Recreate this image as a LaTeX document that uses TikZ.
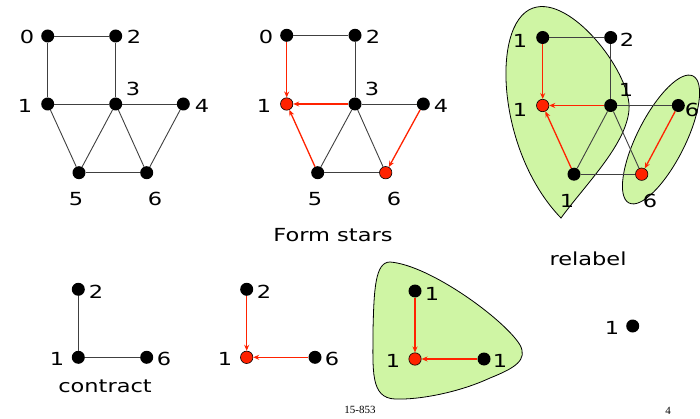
\documentclass[tikz,border=0pt]{standalone}
\usepackage{fontspec}
\setmainfont[FakeStretch=1.25]{DejaVu Sans}
\newfontfamily\footfont{Liberation Serif}
\usetikzlibrary{arrows.meta}
\definecolor{myred}{RGB}{255,34,0}
\definecolor{blobgreen}{RGB}{207,245,164}
\begin{document}
\begin{tikzpicture}[x=1pt,y=-1pt,
  dot/.style={circle,fill=black,inner sep=0pt,minimum size=13pt},
  rdot/.style={circle,fill=myred,draw=black,line width=0.6pt,inner sep=0pt,minimum size=12.4pt},
  lbl/.style={inner sep=0pt,font=\fontsize{18}{20}\selectfont},
  foot/.style={inner sep=0pt,font=\footfont\fontsize{11}{12}\selectfont},
  edge/.style={draw=black!75,line width=0.9pt},
  rarr/.style={draw=myred,line width=1.3pt,-{Stealth[length=6pt,width=5pt]}},
  blobst/.style={fill=blobgreen,draw=black,line width=0.8pt}]
\useasboundingbox (0,0) rectangle (700,419);

% ---------- graph 1 ----------
\node[dot] (a0) at (47.7,36) {};
\node[dot] (a2) at (115.7,36) {};
\node[dot] (a1) at (47.7,104) {};
\node[dot] (a3) at (115.7,104) {};
\node[dot] (a4) at (183.3,104) {};
\node[dot] (a5) at (79,172.7) {};
\node[dot] (a6) at (146.7,172.7) {};
\draw[edge] (a0) -- (a2);
\draw[edge] (a0) -- (a1);
\draw[edge] (a2) -- (a3);
\draw[edge] (a1) -- (a3);
\draw[edge] (a3) -- (a4);
\draw[edge] (a1) -- (a5);
\draw[edge] (a3) -- (a5);
\draw[edge] (a3) -- (a6);
\draw[edge] (a4) -- (a6);
\draw[edge] (a5) -- (a6);
\node[lbl] (la0) at (27,37) {0};
\node[lbl] (la2) at (134,37) {2};
\node[lbl] (la1) at (25,106) {1};
\node[lbl] (la3) at (133,89) {3};
\node[lbl] (la4) at (202,106) {4};
\node[lbl] (la5) at (76,199) {5};
\node[lbl] (la6) at (155,199) {6};

% ---------- graph 2 ----------
\node[dot] (b0) at (286.7,35.3) {};
\node[dot] (b2) at (355,35.3) {};
\node[rdot] (b1) at (286.7,104) {};
\node[dot] (b3) at (355,104) {};
\node[dot] (b4) at (423.3,104) {};
\node[dot] (b5) at (317.7,172.7) {};
\node[rdot] (b6) at (385.7,172.7) {};
\draw[edge] (b0) -- (b2);
\draw[edge] (b2) -- (b3);
\draw[edge] (b3) -- (b4);
\draw[edge] (b3) -- (b5);
\draw[edge] (b3) -- (b6);
\draw[edge] (b5) -- (b6);
\draw[rarr] (b0) -- (b1);
\draw[rarr] (b3) -- (b1);
\draw[rarr] (b5) -- (b1);
\draw[rarr] (b4) -- (b6);
\node[lbl] (lb0) at (266,37) {0};
\node[lbl] (lb2) at (373,37) {2};
\node[lbl] (lb1) at (264,106) {1};
\node[lbl] (lb3) at (372,89) {3};
\node[lbl] (lb4) at (441,106) {4};
\node[lbl] (lb5) at (315,199) {5};
\node[lbl] (lb6) at (394,199) {6};
\node[lbl] (formstars) at (333,235) {Form stars};

% ---------- graph 3 (relabel) ----------
\path[blobst] (561,218) .. controls (495,150) and (490,15) .. (537,7)
  .. controls (575,0) and (632,75) .. (629,110)
  .. controls (626,145) and (585,185) .. (561,218) -- cycle;
\path[blobst] (693,76) .. controls (704.9,82) and (700.2,115.3) .. (682.5,150.3)
  .. controls (664.8,185.3) and (640.9,209) .. (629,203)
  .. controls (617.1,197) and (621.8,163.7) .. (639.5,128.7)
  .. controls (657.2,93.7) and (681.1,70) .. (693,76) -- cycle;
\node[dot] (c0) at (542.7,37.5) {};
\node[dot] (c2) at (610.7,37.5) {};
\node[rdot] (c1) at (542.7,105.5) {};
\node[dot] (c3) at (610.7,105.5) {};
\node[dot] (c4) at (678.3,105.5) {};
\node[dot] (c5) at (574,174.2) {};
\node[rdot] (c6) at (641.7,174.2) {};
\draw[edge] (c0) -- (c2);
\draw[edge] (c2) -- (c3);
\draw[edge] (c3) -- (c4);
\draw[edge] (c3) -- (c5);
\draw[edge] (c3) -- (c6);
\draw[edge] (c5) -- (c6);
\draw[rarr] (c0) -- (c1);
\draw[rarr] (c3) -- (c1);
\draw[rarr] (c5) -- (c1);
\draw[rarr] (c4) -- (c6);
\node[lbl] (lc0) at (520,41) {1};
\node[lbl] (lc2) at (627,40) {2};
\node[lbl] (lc1) at (520,110) {1};
\node[lbl] (lc3) at (626,90) {1};
\node[lbl] (lc4) at (692,110) {6};
\node[lbl] (lc5) at (567,201) {1};
\node[lbl] (lc6) at (650,201) {6};
\node[lbl] (relabel1) at (588,259) {relabel};

% ---------- contract ----------
\node[dot] (d2) at (78.3,289.3) {};
\node[dot] (d1) at (78.3,357.3) {};
\node[dot] (d6) at (146.7,357.3) {};
\draw[edge] (d2) -- (d1);
\draw[edge] (d1) -- (d6);
\node[lbl] (ld2) at (96,291.5) {2};
\node[lbl] (ld1) at (57,359) {1};
\node[lbl] (ld6) at (164,359) {6};
\node[lbl] (contract) at (105,386) {contract};

% ---------- second star ----------
\node[dot] (e2) at (246.7,289.3) {};
\node[rdot] (e1) at (246.7,357.3) {};
\node[dot] (e6) at (315,357.3) {};
\draw[rarr] (e2) -- (e1);
\draw[rarr] (e6) -- (e1);
\node[lbl] (le2) at (264,291.5) {2};
\node[lbl] (le1) at (225,359) {1};
\node[lbl] (le6) at (332,359) {6};

% ---------- third star in blob ----------
\path[blobst] (390,262) .. controls (430,265) and (505,320) .. (520,345)
  .. controls (528,360) and (515,368) .. (490,378)
  .. controls (460,392) and (420,400) .. (395,399)
  .. controls (370,398) and (373,370) .. (373,330)
  .. controls (374,290) and (375,262) .. (390,262) -- cycle;
\node[dot] (f2) at (415,291) {};
\node[rdot] (f1) at (415,359) {};
\node[dot] (f6) at (484,359) {};
\draw[rarr] (f2) -- (f1);
\draw[rarr] (f6) -- (f1);
\node[lbl] (lf2) at (432,294) {1};
\node[lbl] (lf1) at (393,361) {1};
\node[lbl] (lf6) at (500,361) {1};

% ---------- single node ----------
\node[dot] (g1) at (632.7,326) {};
\node[lbl] (lg1) at (612,328) {1};

% ---------- footer ----------
\node[foot] (course) at (360,410) {15-853};
\node[foot] (page) at (668,411) {4};
\end{tikzpicture}
\end{document}
